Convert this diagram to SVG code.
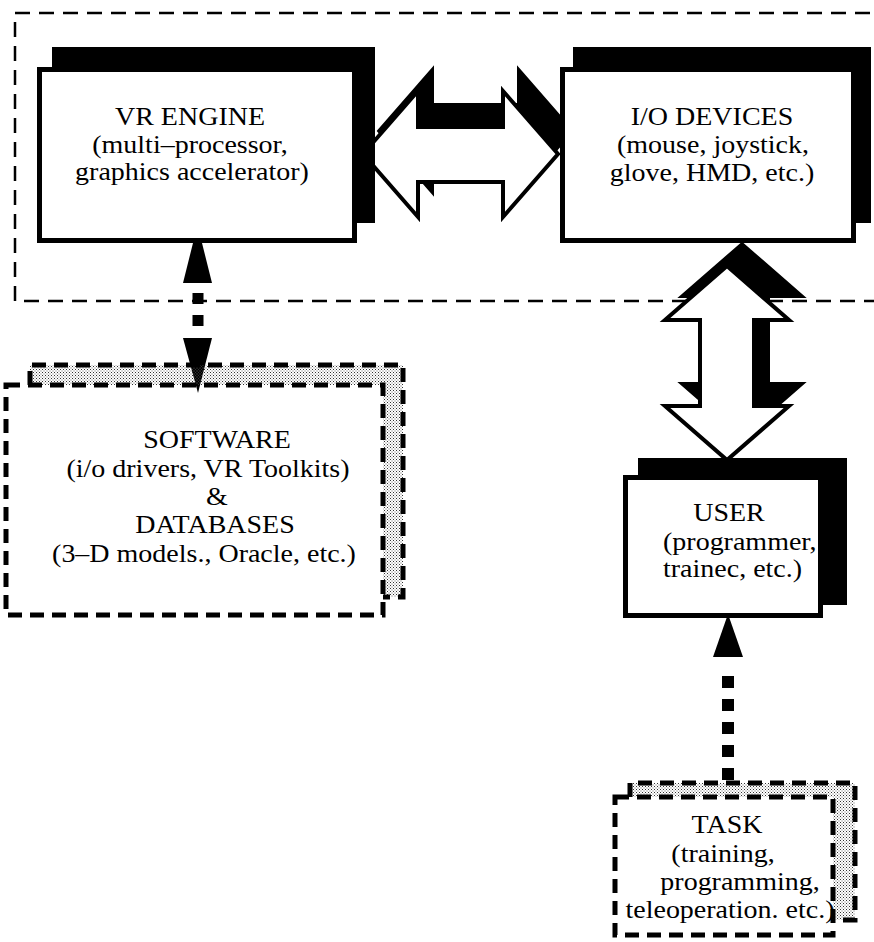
<svg xmlns="http://www.w3.org/2000/svg" width="874" height="942" viewBox="0 0 874 942">
<style>
  .lbl { font-family: "Liberation Serif", "Times New Roman", serif; font-size: 25px; fill: #000; text-anchor: middle; }
  .lft { text-anchor: start; }
  .shadow { fill: #000; }
  .front { fill: #fff; stroke: #000; stroke-width: 5; }
  .dash { fill: none; stroke: #000; stroke-width: 5; stroke-dasharray: 14 8; }
  .frame { fill: none; stroke: #000; stroke-width: 2.5; stroke-dasharray: 15 9; }
  .arrowW { fill: #fff; stroke: #000; stroke-width: 4; stroke-linejoin: miter; }
  .arrowB { fill: #000; stroke: #000; stroke-width: 2; }
  .dotline { fill: none; stroke: #000; }
</style>
<defs>
  <pattern id="stipple" width="3" height="3" patternUnits="userSpaceOnUse">
    <rect x="0" y="0" width="1" height="1" fill="#333"/>
    <rect x="1.5" y="1.5" width="1" height="1" fill="#666"/>
  </pattern>
</defs>
<rect width="874" height="942" fill="#fff"/>

<!-- outer dashed frame -->
<rect class="frame" x="15" y="13" width="900" height="288"/>

<g id="connectors">
  <!-- VR ENGINE <-> I/O DEVICES -->
  <polygon class="arrowB" points="378,131 433,68 433,104 518,104 518,68 573,131 518,194 518,159 433,159 433,194"/>
  <polygon class="arrowW" points="363,154 418,91 418,127 503,127 503,91 558,154 503,217 503,182 418,182 418,217"/>
  <!-- I/O DEVICES <-> USER -->
  <polygon class="arrowB" points="742,243 804,297 769,297 769,383 804,383 742,437 680,383 715,383 715,297 680,297"/>
  <polygon class="arrowW" points="727,266 789,320 754,320 754,406 789,406 727,460 665,406 700,406 700,320 665,320"/>
  <!-- VR ENGINE <-> SOFTWARE (dashed) -->
  <polygon fill="#000" points="197.5,225 212,283 183,283"/>
  <line class="dotline" x1="198" y1="293" x2="198" y2="327" stroke-width="11" stroke-dasharray="11 11"/>
  <polygon fill="#000" points="183,338 212,338 198,393"/>
  <!-- TASK -> USER (dashed) -->
  <polygon fill="#000" points="728,614 743,657 713,657"/>
  <line class="dotline" x1="728" y1="676" x2="728" y2="780" stroke-width="12" stroke-dasharray="12 11"/>
</g>

<g id="vr-engine">
  <rect class="shadow" x="52" y="47" width="323" height="176"/>
  <rect class="front" x="39.5" y="69.5" width="315" height="171"/>
  <text class="lbl" transform="translate(190,0) scale(1.12,1)" x="0" y="125">VR ENGINE</text>
  <text class="lbl" transform="translate(190,0) scale(1.12,1)" x="0" y="153">(multi–processor,</text>
  <text class="lbl" transform="translate(192,0) scale(1.12,1)" x="0" y="180">graphics accelerator)</text>
</g>

<g id="io-devices">
  <rect class="shadow" x="573" y="47" width="298" height="176"/>
  <rect class="front" x="562.5" y="69.5" width="291" height="171"/>
  <text class="lbl" transform="translate(712,0) scale(1.12,1)" x="0" y="125">I/O DEVICES</text>
  <text class="lbl" transform="translate(713,0) scale(1.12,1)" x="0" y="153">(mouse, joystick,</text>
  <text class="lbl" transform="translate(712,0) scale(1.12,1)" x="0" y="181">glove, HMD, etc.)</text>
</g>

<g id="software">
  <path d="M30,365 H403 V597 H383 V385 H30 Z" fill="url(#stipple)"/>
  <path class="dash" d="M30,385 V365 H403 V597 H383"/>
  <rect class="dash" x="6" y="385" width="377" height="230"/>
  <text class="lbl" transform="translate(217,0) scale(1.12,1)" x="0" y="448">SOFTWARE</text>
  <text class="lbl" transform="translate(208,0) scale(1.12,1)" x="0" y="477">(i/o drivers, VR Toolkits)</text>
  <text class="lbl" transform="translate(217,0) scale(1.12,1)" x="0" y="505">&amp;</text>
  <text class="lbl" transform="translate(215,0) scale(1.12,1)" x="0" y="533">DATABASES</text>
  <text class="lbl" transform="translate(204,0) scale(1.12,1)" x="0" y="562">(3–D models., Oracle, etc.)</text>
</g>

<g id="user">
  <rect class="shadow" x="638" y="458" width="209" height="147"/>
  <rect class="front" x="625.5" y="477.5" width="195" height="138"/>
  <text class="lbl" transform="translate(729,0) scale(1.12,1)" x="0" y="521">USER</text>
  <text class="lbl lft" transform="translate(663,0) scale(1.12,1)" x="0" y="550">(programmer,</text>
  <text class="lbl lft" transform="translate(663,0) scale(1.12,1)" x="0" y="577">trainec, etc.)</text>
</g>

<g id="task">
  <path d="M630,783 H855 V920 H833 V797 H630 Z" fill="url(#stipple)"/>
  <path class="dash" d="M630,797 V783 H855 V920 H833"/>
  <rect class="dash" x="615" y="797" width="218" height="138"/>
  <text class="lbl" transform="translate(727,0) scale(1.12,1)" x="0" y="833">TASK</text>
  <text class="lbl" transform="translate(723,0) scale(1.12,1)" x="0" y="862">(training,</text>
  <text class="lbl" transform="translate(740,0) scale(1.12,1)" x="0" y="890">programming,</text>
  <text class="lbl" transform="translate(730,0) scale(1.12,1)" x="0" y="918">teleoperation. etc.)</text>
</g>
</svg>
